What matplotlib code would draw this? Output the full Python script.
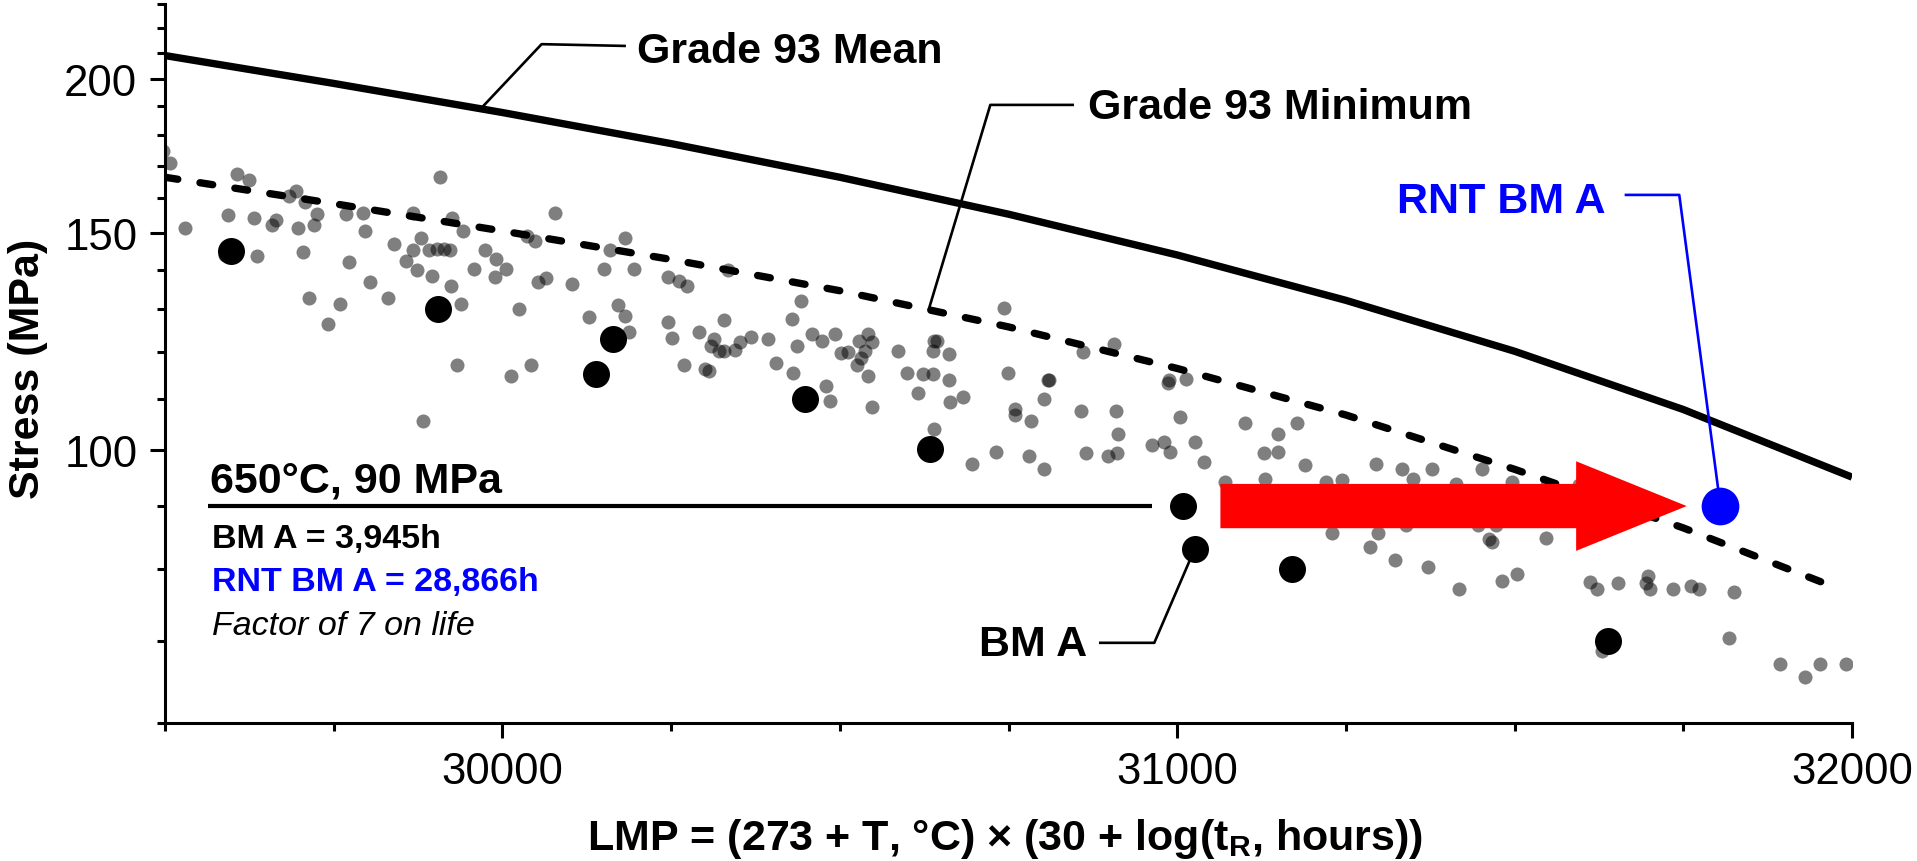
import matplotlib
matplotlib.use("Agg")
import matplotlib.pyplot as plt
from matplotlib.patches import FancyArrowPatch, ArrowStyle
from matplotlib.ticker import FixedLocator, FixedFormatter, NullFormatter

plt.rcParams["font.family"] = ["Liberation Sans", "DejaVu Sans"]
plt.rcParams["mathtext.fontset"] = "custom"
plt.rcParams["mathtext.rm"] = "Liberation Sans:bold"
plt.rcParams["mathtext.it"] = "Liberation Sans:bold"
plt.rcParams["mathtext.bf"] = "Liberation Sans:bold"

# Grade 93 reference curves (LMP, MPa)
mean_lmp = [29500, 29750, 30000, 30250, 30500, 30750, 31000, 31250, 31500, 31750, 32000]
mean_stress = [208.9, 198.3, 187.8, 177.2, 166.4, 155.3, 143.9, 132.2, 120.2, 107.8, 95.0]
min_lmp = [29500, 29750, 30000, 30250, 30500, 30750, 31000, 31250, 31500, 31750, 31970]
min_stress = [166.4, 158.4, 150.5, 142.7, 134.6, 125.8, 116.4, 106.7, 96.4, 86.4, 77.5]

# literature data (grey)
gray_lmp = [
    29497, 29507, 29530, 29607, 29625, 29589, 29594, 29632, 29637, 29658,
    29664, 29683, 29694, 29707, 29697, 29704, 29725, 29720, 29714, 29742,
    29759, 29773, 29768, 29793, 29796, 29803, 29830, 29840, 29857, 29867,
    29868, 29873, 29879, 29891, 29895, 29907, 29903, 29913, 29923, 29925,
    29924, 29938, 29933, 29941, 29882, 29958, 29974, 29991, 29989, 30006,
    30012, 30042, 30024, 30036, 30048, 30052, 30064, 30078, 30103, 30129,
    30150, 30181, 30159, 30195, 30245, 30262, 30274, 30334, 30171, 30181,
    30188, 30245, 30251, 30269, 30292, 30300, 30306, 30314, 30309, 30321,
    30329, 30329, 30344, 30352, 30368, 30393, 30405, 30429, 30436, 30431,
    30443, 30459, 30473, 30479, 30485, 30493, 30502, 30512, 30526, 30532,
    30529, 30542, 30538, 30548, 30541, 30548, 30586, 30600, 30616, 30623,
    30638, 30638, 30640, 30644, 30662, 30662, 30663, 30683, 30640, 30696,
    30731, 30744, 30749, 30759, 30759, 30784, 30781, 30802, 30803, 30808,
    30810, 30860, 30907, 30986, 30988, 31013, 30858, 30910, 30912, 30865,
    30898, 30911, 30962, 30980, 30989, 31004, 31026, 31039, 31071, 31100,
    31129, 31149, 31150, 31130, 31177, 31189, 31220, 31244, 31294, 31333,
    31349, 31378, 31452, 31413, 31496, 31548, 31595, 31230, 31298, 31285,
    31339, 31445, 31472, 31462, 31467, 31323, 31372, 31417, 31481, 31503,
    31547, 31612, 31622, 31653, 31698, 31695, 31701, 31734, 31762, 31773,
    31825, 31629, 31817, 31893, 31930, 31953, 31991,
]
gray_stress = [
    174.9, 171.0, 151.3, 167.5, 165.7, 143.8, 155.1, 154.1, 143.6, 152.3,
    153.5, 160.8, 162.3, 159.0, 151.3, 144.7, 155.4, 152.1, 132.9, 126.6,
    131.3, 142.1, 155.4, 155.7, 150.4, 136.8, 132.9, 146.8, 142.4, 145.2,
    155.7, 139.8, 148.6, 145.2, 138.3, 166.4, 145.6, 145.6, 145.2, 154.1,
    135.7, 131.3, 117.1, 150.6, 105.5, 140.1, 145.2, 142.8, 138.0, 140.2,
    114.7, 117.1, 130.2, 149.0, 147.6, 136.8, 137.8, 155.6, 136.3, 128.1,
    140.2, 148.6, 145.2, 140.2, 138.1, 137.0, 135.7, 139.8, 131.0, 128.5,
    124.6, 127.0, 123.3, 117.1, 124.6, 116.3, 115.8, 122.9, 121.5, 120.2,
    127.4, 120.2, 120.4, 122.3, 123.4, 123.1, 117.6, 127.6, 121.4, 115.5,
    132.0, 124.2, 122.5, 112.6, 109.6, 124.2, 119.7, 120.1, 117.1, 118.6,
    122.5, 124.2, 120.2, 122.3, 114.8, 108.3, 120.2, 115.4, 111.1, 115.2,
    115.2, 120.2, 122.5, 122.5, 119.5, 113.9, 109.4, 110.3, 104.0, 97.3,
    99.5, 130.3, 115.4, 107.9, 106.7, 105.5, 98.8, 96.4, 110.0, 113.9,
    113.9, 120.1, 121.9, 113.2, 113.9, 114.2, 107.6, 107.6, 102.9, 99.3,
    98.8, 99.3, 100.9, 101.5, 99.5, 106.4, 101.5, 97.8, 94.2, 105.2,
    99.4, 102.9, 99.6, 94.7, 105.2, 97.1, 94.1, 94.5, 97.4, 96.5,
    94.7, 96.5, 96.5, 93.8, 94.1, 93.6, 93.6, 85.6, 85.6, 83.4,
    86.9, 86.9, 86.9, 84.6, 84.1, 81.4, 80.3, 77.1, 78.3, 79.2,
    84.8, 78.1, 77.1, 78.0, 79.0, 78.0, 77.1, 77.1, 77.5, 77.1,
    76.6, 68.7, 70.3, 67.0, 65.4, 67.0, 67.0,
]

# base metal tests (black) and the RNT result (blue)
bm_lmp = [29598, 29905, 30138, 30164, 30449, 30633, 31008, 31026, 31170, 31638]
bm_stress = [145.0, 130.0, 115.1, 123.1, 110.0, 100.1, 90.0, 83.1, 80.0, 70.0]
rnt_lmp = 31805
rnt_stress = 90.0

x_major = [30000, 31000, 32000]
x_minor = [29500, 29750, 30250, 30500, 30750, 31250, 31500, 31750]
y_major = [100, 150, 200]
y_minor = [60, 70, 80, 90, 110, 120, 130, 140, 160, 170, 180, 190, 210, 220, 230]

fig = plt.figure(figsize=(19.17, 8.62), dpi=100)
ax = fig.add_axes([0.0861, 0.1601, 0.8800, 0.8340])
ax.set_yscale("log")
ax.set_xlim(29500, 32000)
ax.set_ylim(60, 230)

ax.scatter(gray_lmp, gray_stress, s=102, color="black", alpha=0.5, linewidths=0, zorder=2)
ax.plot(mean_lmp, mean_stress, color="black", lw=5.3, solid_capstyle="butt",
        solid_joinstyle="round", zorder=3)
ax.plot(min_lmp, min_stress, color="black", lw=5.3, linestyle=(0, (1.75, 3.05)),
        dash_capstyle="round", zorder=3)
ax.scatter(bm_lmp, bm_stress, s=378, color="black", linewidths=0, zorder=4)

# 650C / 90 MPa test line
ax.plot([29564, 30962], [90.0, 90.0], color="black", lw=3, solid_capstyle="butt", zorder=3)

arrow = FancyArrowPatch((31064, 90.0), (31755, 90.0),
                        arrowstyle=ArrowStyle.Simple(head_length=79.6, head_width=64.5, tail_width=31.9),
                        mutation_scale=1, color="#ff0000", lw=0, shrinkA=0, shrinkB=0, zorder=5)
ax.add_patch(arrow)

# leaders
ax.plot([30181, 30058, 29972], [212.7, 213.4, 190.2], color="black", lw=1.9, zorder=3)
ax.plot([30845, 30723, 30632], [190.5, 190.5, 130.1], color="black", lw=1.9, zorder=3)
ax.plot([30886, 30966, bm_lmp[7]], [69.7, 69.7, bm_stress[7]], color="black", lw=1.9, zorder=3)
ax.plot([31665, 31744, rnt_lmp], [161.0, 161.0, rnt_stress], color="#0000ff", lw=1.9, zorder=6)
ax.scatter([rnt_lmp], [rnt_stress], s=737, color="#0000ff", linewidths=0, zorder=7)

big = dict(fontsize=31, fontweight="bold", va="baseline", ha="left")
small = dict(fontsize=24.5, va="baseline", ha="left")
ax.text(30200, 206.3, "Grade 93 Mean", **big)
ax.text(30868, 185.9, "Grade 93 Minimum", **big)
ax.text(31325, 155.9, "RNT BM A", color="#0000ff", **big)
ax.text(30706, 68.1, "BM A", **big)
ax.text(29567, 92.5, "650\u00b0C, 90 MPa", **big)
ax.text(29570, 83.4, "BM A = 3,945h", fontweight="bold", **small)
ax.text(29570, 76.9, "RNT BM A = 28,866h", fontweight="bold", color="#0000ff", **small)
ax.text(29570, 70.9, "Factor of 7 on life", fontstyle="italic", **small)

ax.xaxis.set_major_locator(FixedLocator(x_major))
ax.xaxis.set_minor_locator(FixedLocator(x_minor))
ax.xaxis.set_major_formatter(FixedFormatter([str(v) for v in x_major]))
ax.xaxis.set_minor_formatter(NullFormatter())
ax.yaxis.set_major_locator(FixedLocator(y_major))
ax.yaxis.set_minor_locator(FixedLocator(y_minor))
ax.yaxis.set_major_formatter(FixedFormatter([str(v) for v in y_major]))
ax.yaxis.set_minor_formatter(NullFormatter())

for side in ["top", "right"]:
    ax.spines[side].set_visible(False)
for side in ["left", "bottom"]:
    ax.spines[side].set_linewidth(2.2)
ax.tick_params(which="major", length=11, width=2.2, labelsize=31.5, pad=9)
ax.tick_params(which="minor", length=5.5, width=2.2)

fig.text(28 / 1917, 1 - 369 / 862, "Stress (MPa)", rotation=90, ha="center", va="center",
         fontsize=31, fontweight="bold")
fig.text(1005 / 1917, 1 - 850 / 862,
         "LMP = (273 + T, \u00b0C) \u00d7 (30 + log($\\mathrm{t}_\\mathrm{R}$, hours))",
         ha="center", va="baseline", fontsize=31, fontweight="bold")

fig.savefig("out.png", dpi=100)
